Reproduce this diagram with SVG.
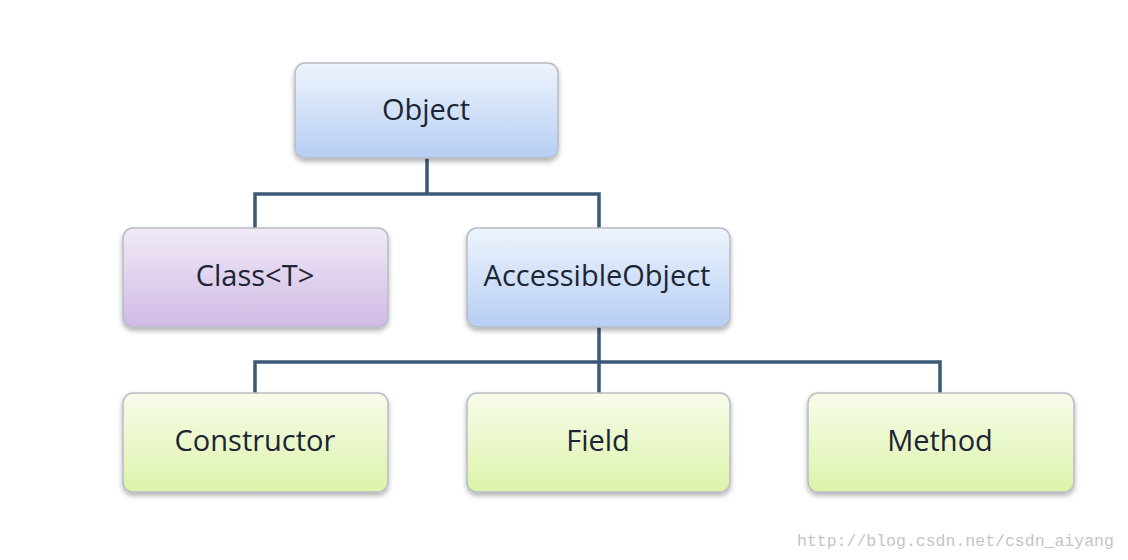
<svg xmlns="http://www.w3.org/2000/svg" width="1128" height="560" viewBox="0 0 1128 560">
<defs>
<linearGradient id="gBlue" x1="0" y1="0" x2="0" y2="1"><stop offset="0" stop-color="#eef4fd"/><stop offset="1" stop-color="#b6cef3"/></linearGradient>
<linearGradient id="gPurple" x1="0" y1="0" x2="0" y2="1"><stop offset="0" stop-color="#f1eaf6"/><stop offset="1" stop-color="#cfbae5"/></linearGradient>
<linearGradient id="gGreen" x1="0" y1="0" x2="0" y2="1"><stop offset="0" stop-color="#f7fcea"/><stop offset="1" stop-color="#ddf3aa"/></linearGradient>
<filter id="sh" x="-10%" y="-10%" width="120%" height="130%"><feDropShadow dx="0" dy="3" stdDeviation="2.5" flood-color="#000" flood-opacity="0.3"/></filter>
</defs>
<style>
.box{stroke:#b8bcc4;stroke-width:1.5;filter:url(#sh)}
.lbl{font-family:"Open Sans","Liberation Sans",sans-serif;font-size:29px;font-weight:500;fill:#1c2533;text-anchor:middle;dominant-baseline:central}
.conn{fill:none;stroke:#3b5877;stroke-width:3.5}
.wm{font-family:"Liberation Mono","DejaVu Sans Mono",monospace;font-size:16.5px;fill:#c4c4c4}
</style>
<rect width="1128" height="560" fill="#ffffff"/>
<g id="connectors">
<path class="conn" d="M427 158V194M255 228V194H599V228"/>
<path class="conn" d="M599 327V362M255 393V362H940V393M599 362V393"/>
</g>
<g id="object"><rect class="box" x="295" y="63" width="263" height="95" rx="10" fill="url(#gBlue)"/><text class="lbl" x="426" y="108">Object</text></g>
<g id="class"><rect class="box" x="123" y="228" width="265" height="99" rx="10" fill="url(#gPurple)"/><text class="lbl" x="255" y="274">Class&lt;T&gt;</text></g>
<g id="accessibleobject"><rect class="box" x="467" y="228" width="263" height="99" rx="10" fill="url(#gBlue)"/><text class="lbl" x="597" y="274">AccessibleObject</text></g>
<g id="constructor"><rect class="box" x="123" y="393" width="265" height="99" rx="10" fill="url(#gGreen)"/><text class="lbl" x="255" y="439">Constructor</text></g>
<g id="field"><rect class="box" x="467" y="393" width="263" height="99" rx="10" fill="url(#gGreen)"/><text class="lbl" x="598" y="439">Field</text></g>
<g id="method"><rect class="box" x="808" y="393" width="266" height="99" rx="10" fill="url(#gGreen)"/><text class="lbl" x="940" y="439">Method</text></g>
<text class="wm" x="797" y="546">http://blog.csdn.net/csdn_aiyang</text>
</svg>
